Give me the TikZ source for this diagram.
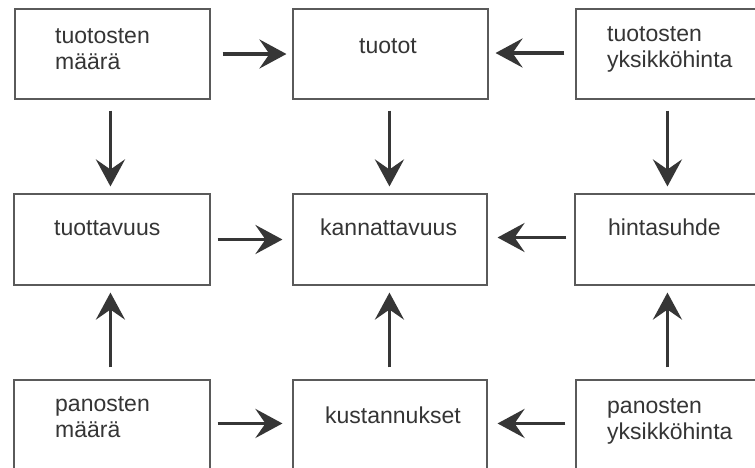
\documentclass[tikz,border=0pt]{standalone}
\usepackage{fontspec}
\setmainfont{Liberation Sans}
\usetikzlibrary{arrows.meta,calc}
\definecolor{boxline}{HTML}{5A5A5A}
\definecolor{arrowcol}{HTML}{363636}
\definecolor{txt}{HTML}{353535}
\begin{document}
\begin{tikzpicture}[x=1pt,y=-1pt,
  box/.style={draw=boxline,line width=1.1pt,rectangle,inner sep=0pt},
  lbl/.style={anchor=base west,align=left,inner sep=0pt,text=txt,font=\fontsize{23}{25.5}\selectfont},
  arr/.style={draw=arrowcol,line width=3.6pt,-{Stealth[length=27pt,width=29pt,inset=10pt]}}]
\useasboundingbox (0,0) rectangle (755,467);
\clip (0,0) rectangle (755,467);
\fill[white] (0,0) rectangle (755,467);
% boxes
\node[box,minimum width=195pt,minimum height=90pt] (A) at (112.5,54) {};
\node[box,minimum width=195pt,minimum height=90pt] (B) at (390.5,54) {};
\node[box,minimum width=200pt,minimum height=90pt] (C) at (676,54) {};
\node[box,minimum width=196pt,minimum height=91pt] (D) at (112,239.5) {};
\node[box,minimum width=194pt,minimum height=91pt] (E) at (390,239.5) {};
\node[box,minimum width=200pt,minimum height=91pt] (F) at (675,239.5) {};
\node[box,minimum width=196pt,minimum height=100pt] (G) at (112,430) {};
\node[box,minimum width=194pt,minimum height=100pt] (H) at (390,430) {};
\node[box,minimum width=200pt,minimum height=100pt] (I) at (676,430) {};
% texts (two-line labels anchored at the baseline of their last line)
\node[lbl] (tA) at (55,69) {tuotosten\\määrä};
\node[lbl] (tB) at (359,53) {tuotot};
\node[lbl] (tC) at (607,67) {tuotosten\\yksikköhinta};
\node[lbl] (tD) at (54,235) {tuottavuus};
\node[lbl] (tE) at (320,235) {kannattavuus};
\node[lbl] (tF) at (608,235) {hintasuhde};
\node[lbl] (tG) at (55,437) {panosten\\määrä};
\node[lbl] (tH) at (325,423) {kustannukset};
\node[lbl] (tI) at (607,439) {panosten\\yksikköhinta};
% horizontal arrows
\draw[arr] ($(A.east)+(12,0)$) -- ($(B.west)+(-6,0)$);
\draw[arr] ($(C.west)+(-11,-1)$) -- ($(B.east)+(7,-1)$);
\draw[arr] ($(D.east)+(7,0)$) -- ($(E.west)+(-10,0)$);
\draw[arr] ($(F.west)+(-8,-2)$) -- ($(E.east)+(10,-2)$);
\draw[arr] ($(G.north east)+(7,44)$) -- ($(H.north west)+(-10,44)$);
\draw[arr] ($(I.north west)+(-10,44)$) -- ($(H.north east)+(10,44)$);
% vertical arrows
\draw[arr] ($(A.south west)+(96,11)$) -- ($(D.north west)+(97,-7)$);
\draw[arr] ($(B.south west)+(97,11)$) -- ($(E.north west)+(97,-7)$);
\draw[arr] ($(C.south west)+(92,11)$) -- ($(F.north west)+(93,-7)$);
\draw[arr] ($(G.north west)+(97,-12)$) -- ($(D.south west)+(97,7)$);
\draw[arr] ($(H.north west)+(97,-12)$) -- ($(E.south west)+(97,7)$);
\draw[arr] ($(I.north west)+(92,-12)$) -- ($(F.south west)+(93,7)$);
\end{tikzpicture}
\end{document}
